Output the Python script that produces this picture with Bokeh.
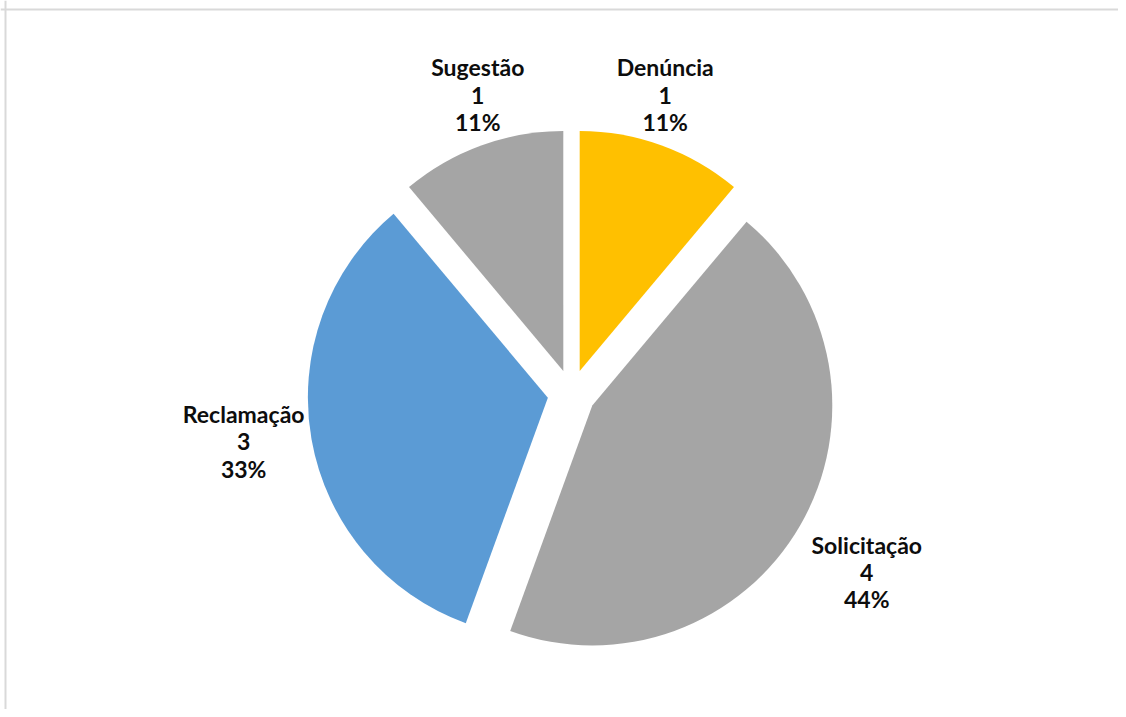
import numpy as np
from bokeh.plotting import figure
from bokeh.models import ColumnDataSource, Span
from bokeh.core.properties import value
from bokeh.embed import file_html
from bokeh.resources import INLINE

categories = ["Denúncia", "Solicitação", "Reclamação", "Sugestão"]
counts = [1, 4, 3, 1]
colors = ["#FFC000", "#A5A5A5", "#5B9BD5", "#A5A5A5"]

W, H = 1118, 709
cx, cy = 571, 316
R = 240
EXPLODE = 24
GAP = 10
HALF_W = 58
FS = 23

vals = np.array(counts, dtype=float)
frac = vals / vals.sum()
cum_end = np.cumsum(frac)
cum_start = cum_end - frac
# clockwise from 12 o'clock
start = np.deg2rad(90 - cum_end * 360)
end = np.deg2rad(90 - cum_start * 360)
mid = (start + end) / 2
dx, dy = np.cos(mid), np.sin(mid)
wx = cx + EXPLODE * dx
wy = cy + EXPLODE * dy

ax = wx + (R + GAP) * dx
ay = wy + (R + GAP) * dy
hsign = np.array([1 if d > 0.5 else (-1 if d < -0.5 else 0) for d in dx])
lx = ax + hsign * HALF_W
baselines = ["bottom" if d > 0.3 else ("top" if d < -0.3 else "middle") for d in dy]
pct = [f"{round(f * 100):.0f}%" for f in frac]
labels = [f"{c}\n{n}\n{p}" for c, n, p in zip(categories, counts, pct)]

src = ColumnDataSource(dict(x=wx, y=wy, start=start, end=end, color=colors,
                            lx=lx, ly=ay, label=labels, base=baselines))

p = figure(width=W, height=H, x_range=(0, W), y_range=(0, H),
           output_backend="svg", toolbar_location=None, min_border=0)
p.axis.visible = False
p.grid.visible = False
p.outline_line_color = None
p.background_fill_color = "white"

p.wedge(x="x", y="y", radius=R, radius_units="screen", start_angle="start", end_angle="end",
        fill_color="color", line_color=None, source=src)

p.text(x="lx", y="ly", text="label", text_align="center", text_baseline="base",
       text_font=value("Lato"), text_font_style="bold", text_font_size=f"{FS}px",
       text_line_height=0.98, text_color="#0d0d0d", source=src)

p.add_layout(Span(location=H - 9, dimension="width", line_color="#D9D9D9", line_width=2))
p.add_layout(Span(location=5, dimension="height", line_color="#D9D9D9", line_width=2))

open("out.html", "w").write(file_html(p, INLINE))
